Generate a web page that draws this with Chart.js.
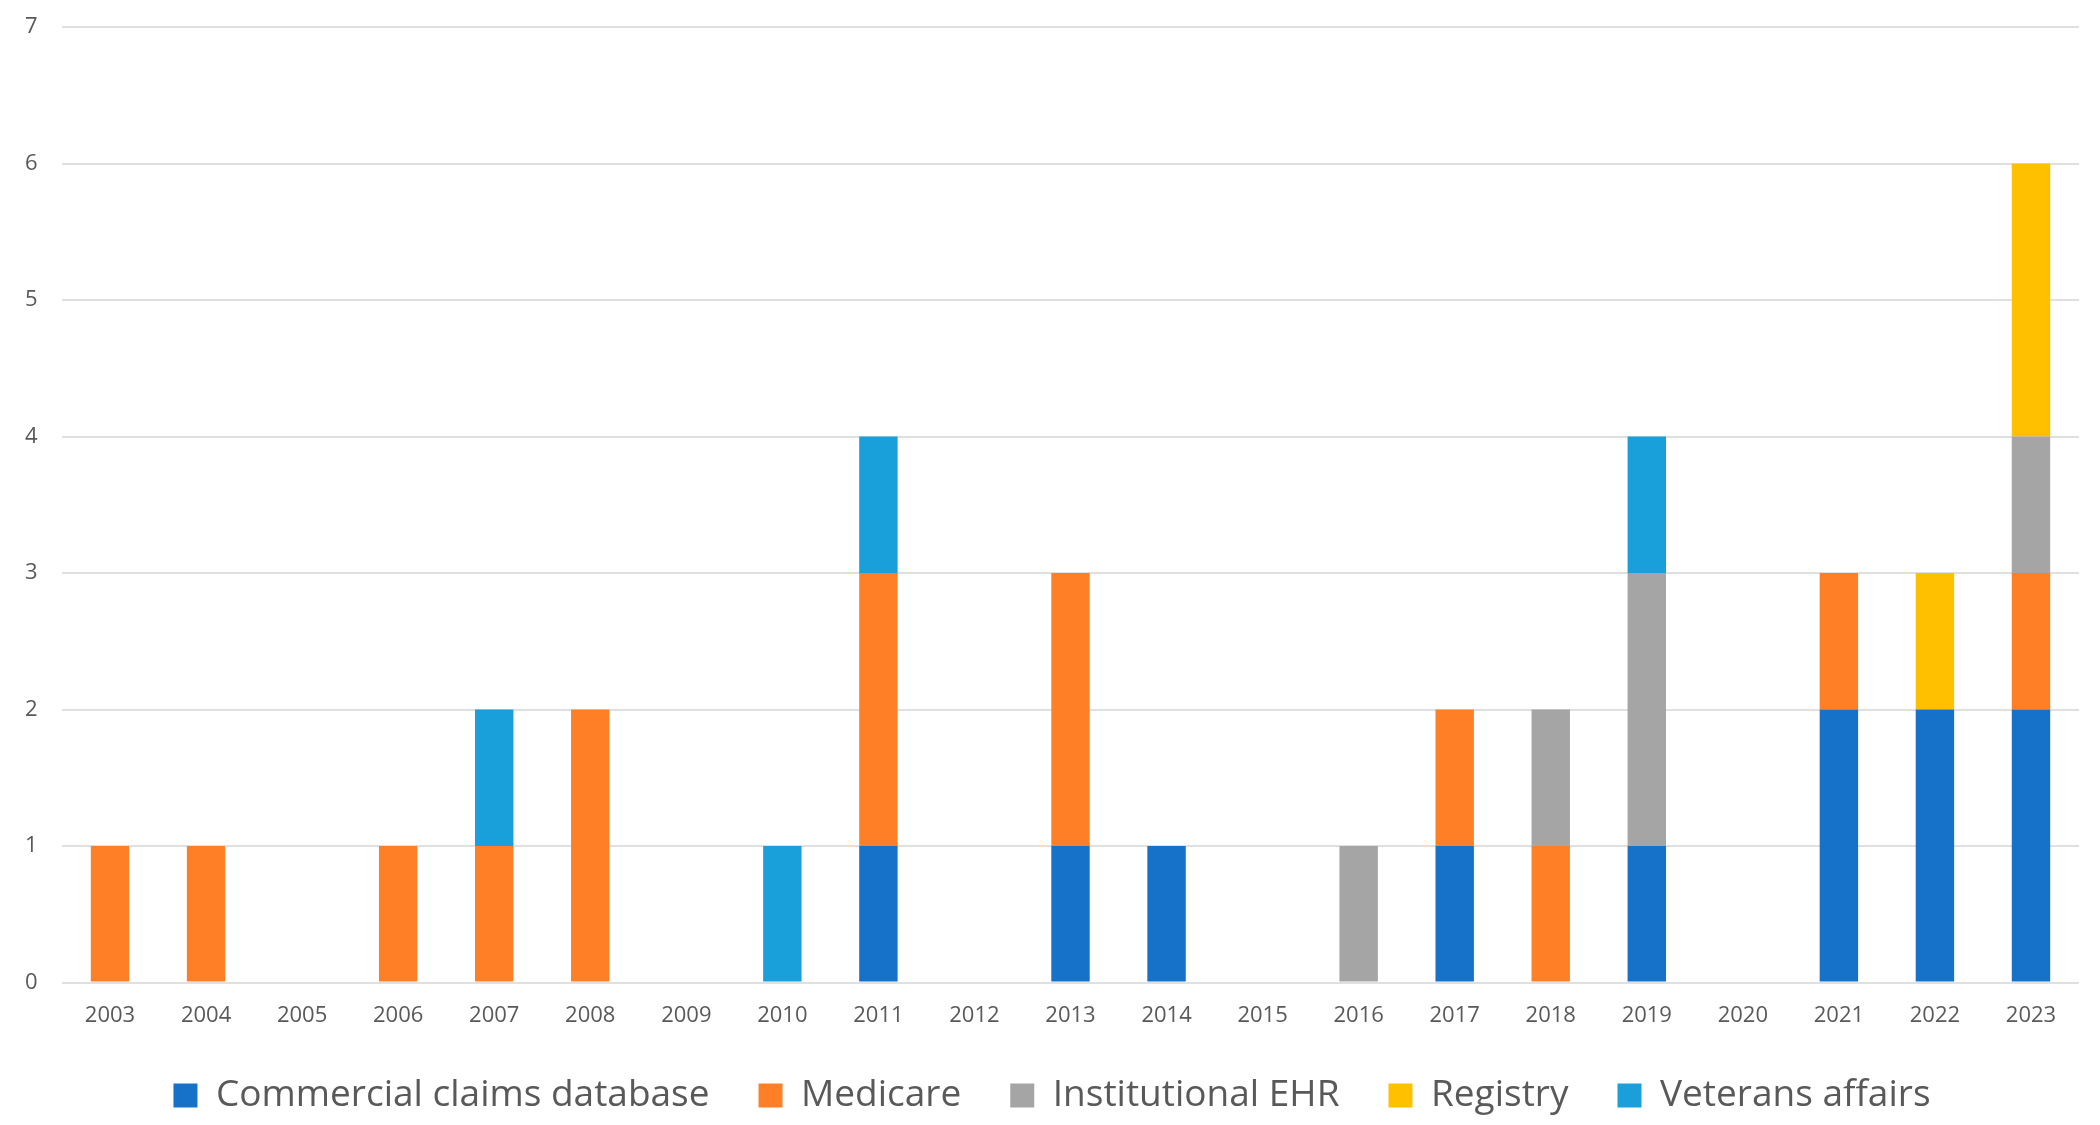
<!DOCTYPE html>
<html>
<head>
<meta charset="utf-8">
<title>Studies by data source and year</title>
<script src="https://cdn.jsdelivr.net/npm/chart.js@4/dist/chart.umd.min.js"></script>
<style>
  html, body { margin: 0; padding: 0; background: #fff; }
  #wrap { width: 2100px; height: 1125px; }
</style>
</head>
<body>
<div id="wrap"><canvas id="chart" width="2100" height="1125"></canvas></div>
<script>
// ─── Data ───
const years = ['2003', '2004', '2005', '2006', '2007', '2008', '2009', '2010', '2011', '2012',
  '2013', '2014', '2015', '2016', '2017', '2018', '2019', '2020', '2021', '2022', '2023'];

const commercialClaims = [0, 0, 0, 0, 0, 0, 0, 0, 1, 0, 1, 1, 0, 0, 1, 0, 1, 0, 2, 2, 2];
const medicare         = [1, 1, 0, 1, 1, 2, 0, 0, 2, 0, 2, 0, 0, 0, 1, 1, 0, 0, 1, 0, 1];
const institutionalEhr = [0, 0, 0, 0, 0, 0, 0, 0, 0, 0, 0, 0, 0, 1, 0, 1, 2, 0, 0, 0, 1];
const registry         = [0, 0, 0, 0, 0, 0, 0, 0, 0, 0, 0, 0, 0, 0, 0, 0, 0, 0, 0, 1, 2];
const veteransAffairs  = [0, 0, 0, 0, 1, 0, 0, 1, 1, 0, 0, 0, 0, 0, 0, 0, 1, 0, 0, 0, 0];

const yTicks = [0, 1, 2, 3, 4, 5, 6, 7];

const FONT = '"Open Sans", "DejaVu Sans", sans-serif';
const TEXT = '#595959';

const series = [
  { label: 'Commercial claims database', data: commercialClaims, color: '#1572C8' },
  { label: 'Medicare', data: medicare, color: '#FF7F27' },
  { label: 'Institutional EHR', data: institutionalEhr, color: '#A5A5A5' },
  { label: 'Registry', data: registry, color: '#FFC000' },
  { label: 'Veterans affairs', data: veteransAffairs, color: '#199FD9' },
];

// legend spacing is wide horizontally but tight vertically, so lift its top after layout
const legendLift = {
  id: 'legendLift',
  afterLayout(chart) {
    const lg = chart.legend;
    if (!lg) return;
    lg.top -= 21;
  },
};

// ─── Chart ───
new Chart(document.getElementById('chart').getContext('2d'), {
  type: 'bar',
  data: {
    labels: years,
    datasets: series.map((s) => ({
      label: s.label,
      data: s.data.map((v) => (v === 0 ? null : v)),
      backgroundColor: s.color,
      borderWidth: 0,
      categoryPercentage: 1,
      barPercentage: 0.4,
    })),
  },
  plugins: [legendLift],
  options: {
    responsive: false,
    animation: false,
    layout: { padding: { top: 27, right: 21, bottom: 0, left: 25 } },
    plugins: {
      tooltip: { enabled: false },
      legend: {
        position: 'bottom',
        maxHeight: 76,
        labels: {
          font: { family: FONT, size: 37 },
          color: TEXT,
          boxWidth: 24,
          boxHeight: 24,
          padding: 49,
        },
      },
    },
    scales: {
      x: {
        stacked: true,
        grid: { display: false, drawTicks: false },
        border: { display: false },
        ticks: {
          font: { family: FONT, size: 22 },
          color: TEXT,
          padding: 20,
          maxRotation: 0,
          autoSkip: false,
        },
      },
      y: {
        stacked: true,
        min: 0,
        max: 7,
        afterFit: (axis) => { axis.width = 37; },
        afterBuildTicks: (axis) => { axis.ticks = yTicks.map((v) => ({ value: v })); },
        grid: { color: '#E0E0E0', lineWidth: 2, drawTicks: false },
        border: { display: false },
        ticks: {
          font: { family: FONT, size: 22 },
          color: TEXT,
          padding: 0,
          crossAlign: 'far',
        },
      },
    },
  },
});
</script>
</body>
</html>
